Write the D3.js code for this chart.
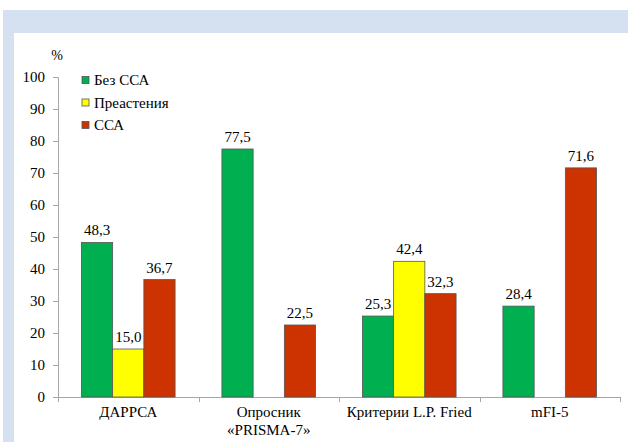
<!DOCTYPE html>
<html><head><meta charset="utf-8">
<script src="https://cdn.jsdelivr.net/npm/d3@7"></script>
<style>body{margin:0;background:#fff}svg{display:block}</style>
</head><body><svg id="c" width="628" height="442"></svg>
<script>
const categories = ["ДАРРСА", "Опросник\n«PRISMA-7»", "Критерии L.P. Fried", "mFI-5"];
const seriesNames = ["Без ССА", "Преастения", "ССА"];
const seriesColors = ["#00b050", "#ffff00", "#cc3300"];
const noFrailty = [48.3, 77.5, 25.3, 28.4];
const preFrailty = [15.0, null, 42.4, null];
const frailty = [36.7, 22.5, 32.3, 71.6];
const yTicks = [0,10,20,30,40,50,60,70,80,90,100];

const FONT = "'Liberation Serif'";
const series = [noFrailty, preFrailty, frailty];
const svg = d3.select("#c");
// background frame
svg.append("rect").attr("x",3).attr("y",10).attr("width",625).attr("height",432).attr("fill","#d5e0f1");
svg.append("rect").attr("x",14).attr("y",33).attr("width",614).attr("height",409).attr("fill","#fff");

const x0 = d3.scaleBand().domain(categories).range([58, 620]).paddingInner(0).paddingOuter(0);
const x1 = d3.scaleBand().domain(seriesNames).range([0, x0.bandwidth()]).paddingOuter(0.75).paddingInner(0);
const y = d3.scaleLinear().domain([0,100]).range([397, 77]);

const g = svg.append("g");
// y axis
const ya = g.append("g").attr("transform","translate(58,0)")
  .call(d3.axisLeft(y).tickValues(yTicks).tickSize(5).tickPadding(8));
ya.attr("font-family", null).attr("font-size", null);
ya.select(".domain").attr("stroke","#a6a6a6").attr("d","M-5,77.5H0.5V397.5");
ya.selectAll(".tick line").attr("stroke","#a6a6a6");
ya.selectAll(".tick text").style("font-size","15px").style("font-family",FONT).attr("fill","#000");

// x axis
const xa = g.append("g").attr("transform","translate(0,397)");
xa.append("line").attr("x1",58).attr("x2",620).attr("y1",0.5).attr("y2",0.5).attr("stroke","#a6a6a6");
const bounds = categories.map(c=>x0(c)).concat([x0.range()[1]]);
xa.selectAll("line.t").data(bounds).join("line").attr("class","t")
  .attr("x1",d=>Math.round(d)+0.5).attr("x2",d=>Math.round(d)+0.5).attr("y1",0).attr("y2",5).attr("stroke","#a6a6a6");
const cl = xa.selectAll("text.cat").data(categories).join("text").attr("class","cat")
  .attr("x",d=>x0(d)+x0.bandwidth()/2).attr("y",20).attr("text-anchor","middle")
  .style("font-size","15px").style("font-family",FONT);
cl.each(function(d){
  const lines = d.split("\n");
  const t = d3.select(this);
  lines.forEach((l,i)=>t.append("tspan").attr("x",x0(d)+x0.bandwidth()/2).attr("dy", i===0? "0":"18").text(l));
});

// bars
const bars = [];
categories.forEach((c,ci)=>series.forEach((s,si)=>{ if(s[ci]!=null) bars.push({c, s:seriesNames[si], v:s[ci], col:seriesColors[si]}); }));
g.selectAll("rect.bar").data(bars).join("rect").attr("class","bar")
  .attr("x",d=>x0(d.c)+x1(d.s)).attr("width",x1.bandwidth())
  .attr("y",d=>y(d.v)).attr("height",d=>y(0)-y(d.v))
  .attr("fill",d=>d.col).attr("stroke","#555").attr("stroke-width",0.8);
g.selectAll("text.val").data(bars).join("text").attr("class","val")
  .attr("x",d=>x0(d.c)+x1(d.s)+x1.bandwidth()/2).attr("y",d=>y(d.v)-7)
  .attr("text-anchor","middle").style("font-size","15px").style("font-family",FONT)
  .text(d=>d3.format(".1f")(d.v).replace(".",","));

// % label
svg.append("text").attr("x",57).attr("y",60).attr("text-anchor","middle")
  .style("font-size","14px").style("font-family",FONT).text("%");

// legend
const lg = svg.append("g").selectAll("g").data(seriesNames).join("g")
  .attr("transform",(d,i)=>`translate(82,${80 + i*22.5})`);
lg.append("rect").attr("x",0).attr("y",-3.5).attr("width",7).attr("height",7)
  .attr("fill",(d,i)=>seriesColors[i]).attr("stroke","#555").attr("stroke-width",0.8);
lg.append("text").attr("x",12).attr("y",5).style("font-size","15px").style("font-family",FONT).text(d=>d);
</script></body></html>
